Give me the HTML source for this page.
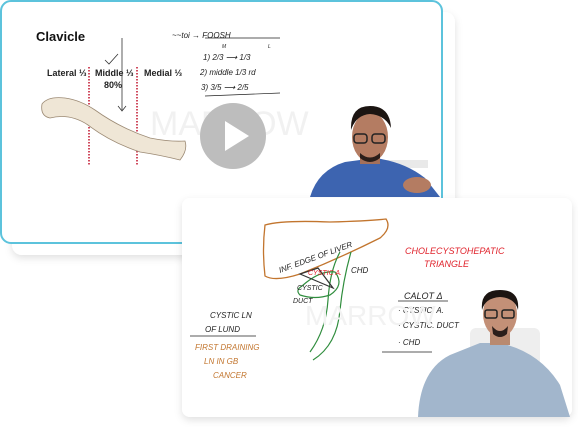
<!DOCTYPE html>
<html><head><style>
html,body{margin:0;padding:0;background:#fff;width:578px;height:427px;overflow:hidden}
svg{display:block;font-family:"Liberation Sans",sans-serif}
.h{font-family:"Liberation Sans",sans-serif;font-style:italic}
</style></head><body>
<svg width="578" height="427" viewBox="0 0 578 427">
<defs>
<filter id="sh" x="-10%" y="-10%" width="120%" height="130%"><feDropShadow dx="0" dy="3" stdDeviation="4" flood-color="#000" flood-opacity="0.12"/></filter>
</defs>
<!-- back card -->
<rect x="12" y="12" width="443" height="243" rx="10" fill="#fff" filter="url(#sh)"/>
<!-- front card 1 -->
<rect x="1" y="1" width="441" height="242" rx="10" fill="#fff" stroke="#5cc3dc" stroke-width="2"/>
<text x="36" y="41" font-size="13" font-weight="bold" fill="#111">Clavicle</text>
<text x="47" y="76" font-size="9" font-weight="bold" fill="#222">Lateral ⅓</text>
<text x="95" y="76" font-size="9" font-weight="bold" fill="#222">Middle ⅓</text>
<text x="104" y="88" font-size="9" font-weight="bold" fill="#222">80%</text>
<text x="144" y="76" font-size="9" font-weight="bold" fill="#222">Medial ⅓</text>
<line x1="89" y1="67" x2="89" y2="166" stroke="#c0102a" stroke-width="1.5" stroke-dasharray="1.5,1.5"/>
<line x1="137" y1="67" x2="137" y2="166" stroke="#c0102a" stroke-width="1.5" stroke-dasharray="1.5,1.5"/>
<line x1="122" y1="38" x2="122" y2="110" stroke="#333" stroke-width="0.8"/>
<path d="M118 106 L122 111 L126 106" fill="none" stroke="#333" stroke-width="0.8"/>
<path d="M105 60 L109 64 L118 54" fill="none" stroke="#333" stroke-width="0.8"/>
<path d="M42 104 Q48 96 65 98 Q80 100 95 110 Q120 128 150 138 Q170 142 185 141 Q188 150 180 160 Q160 155 140 152 Q110 142 88 125 Q70 113 50 118 Q40 116 42 104 Z" fill="#efe6d6" stroke="#9c8a74" stroke-width="0.8"/>
<g class="h" fill="#222" font-size="8">
<text x="172" y="38">~~toi → FOOSH</text>
<line x1="205" y1="38" x2="280" y2="38" stroke="#222" stroke-width="0.7"/>
<text x="222" y="48" font-size="5">M</text><text x="268" y="48" font-size="5">L</text>
<text x="203" y="60">1)  2/3  ⟶  1/3</text>
<text x="200" y="75">2)  middle 1/3 rd</text>
<text x="201" y="90">3)  3/5  ⟶  2/5</text>
<line x1="205" y1="96" x2="280" y2="93" stroke="#222" stroke-width="0.7"/>
</g>
<text x="150" y="135" font-size="34" fill="#f1f1f1">MARROW</text>
<circle cx="233" cy="136" r="33" fill="#bdbdbd"/>
<path d="M225 121 L225 151 L249 136 Z" fill="#fff"/>
<!-- person 1 -->
<rect x="378" y="160" width="50" height="8" fill="#e9e9e9"/>
<path d="M310 197 Q318 170 345 162 L375 158 Q405 162 425 178 L440 197 Z" fill="#3d64b0"/>
<rect x="360" y="150" width="20" height="14" fill="#a4705a"/>
<ellipse cx="370" cy="137" rx="18" ry="25" fill="#b47c62"/>
<path d="M351 130 Q350 106 370 106 Q390 106 391 128 Q385 115 370 114 Q356 115 351 130 Z" fill="#1c1512"/>
<rect x="354" y="134" width="13" height="9" rx="3" fill="none" stroke="#222" stroke-width="1.5"/>
<rect x="372" y="134" width="13" height="9" rx="3" fill="none" stroke="#222" stroke-width="1.5"/>
<path d="M360 153 Q370 162 380 153 L380 158 Q370 166 360 158 Z" fill="#2a1e1a"/>
<ellipse cx="417" cy="185" rx="14" ry="8" fill="#b47c62"/>
<!-- card 2 -->
<rect x="182" y="198" width="390" height="219" rx="8" fill="#fff" filter="url(#sh)"/>
<path d="M265 225 Q282 220 330 222 Q370 221 386 219 Q392 228 380 238 Q340 258 300 274 Q275 282 265 276 Q262 250 265 225 Z" fill="none" stroke="#c2752e" stroke-width="1.3"/>
<path d="M302 286 Q320 270 335 272 Q345 285 330 295 Q315 300 300 295 Q295 290 302 286 Z" fill="none" stroke="#2f8d3d" stroke-width="1.2"/>
<path d="M340 252 Q330 270 328 300 Q326 330 310 352" fill="none" stroke="#2f8d3d" stroke-width="1.2"/>
<path d="M351 252 Q343 280 340 310 Q337 345 313 360" fill="none" stroke="#2f8d3d" stroke-width="1.2"/>
<path d="M300 274 L318 268 L333 288 Z" fill="none" stroke="#333" stroke-width="1.2"/>
<g class="h" font-size="8" fill="#222">
<text x="280" y="273" transform="rotate(-20 280 273)">INF. EDGE OF LIVER</text>
<text x="351" y="273">CHD</text>
<text x="297" y="290" font-size="7">CYSTIC</text>
<text x="293" y="303" font-size="7">DUCT</text>
<text x="210" y="318">CYSTIC LN</text>
<text x="205" y="332">OF LUND</text>
<line x1="190" y1="336" x2="256" y2="336" stroke="#222" stroke-width="0.7"/>
<text x="404" y="299" font-size="9">CALOT Δ</text>
<line x1="398" y1="301" x2="448" y2="301" stroke="#222" stroke-width="0.7"/>
<text x="398" y="313">· CYSTIC. A.</text>
<text x="398" y="328">· CYSTIC. DUCT</text>
<text x="398" y="345">· CHD</text>
<line x1="382" y1="352" x2="432" y2="352" stroke="#222" stroke-width="0.7"/>
</g>
<g class="h" font-size="8" fill="#c2752e">
<text x="195" y="350">FIRST DRAINING</text>
<text x="204" y="364">LN IN GB</text>
<text x="213" y="378">CANCER</text>
</g>
<g class="h" font-size="9" fill="#e0232c">
<text x="405" y="254">CHOLECYSTOHEPATIC</text>
<text x="424" y="267">TRIANGLE</text>
<text x="308" y="275" font-size="7">CYSTIC A.</text>
</g>
<text x="305" y="325" font-size="28" fill="#f2f2f2">MARROW</text>
<!-- person 2 -->
<rect x="470" y="328" width="70" height="89" rx="6" fill="#eeeeee"/>
<path d="M418 417 Q420 370 450 355 L480 343 L500 343 Q540 352 560 385 L570 417 Z" fill="#a2b6cc"/>
<rect x="490" y="327" width="20" height="18" fill="#b98a70"/>
<ellipse cx="500" cy="314" rx="17" ry="23" fill="#c39077"/>
<path d="M482 310 Q480 290 500 290 Q520 290 518 310 Q515 298 500 297 Q485 298 482 310 Z" fill="#1c1512"/>
<rect x="485" y="310" width="12" height="8" rx="2" fill="none" stroke="#222" stroke-width="1.5"/>
<rect x="502" y="310" width="12" height="8" rx="2" fill="none" stroke="#222" stroke-width="1.5"/>
<path d="M492 326 Q500 336 508 326 L507 334 Q500 340 493 334 Z" fill="#2a1e1a"/>
</svg>
</body></html>
